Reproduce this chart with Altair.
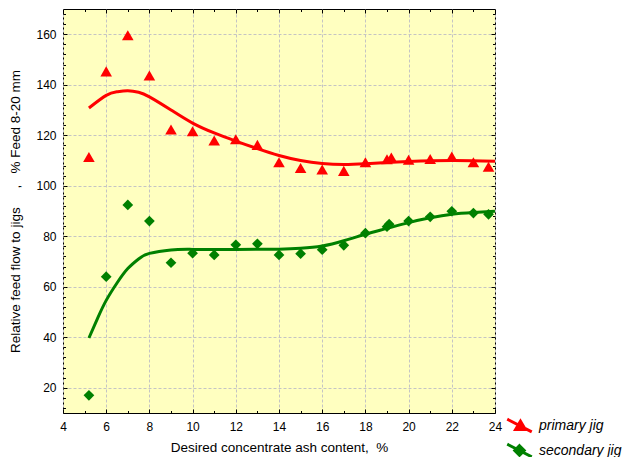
import altair as alt
import pandas as pd

# ---- data ----
series_names = ["primary jig", "secondary jig"]
series_colors = ["#ff0000", "#008000"]

ash_primary = [5.2, 6, 7, 8, 9, 10, 11, 12, 13, 14, 15, 16, 17, 18, 19, 19.2, 20, 21, 22, 23, 23.7]
flow_primary = [111.4, 145.3, 159.6, 143.7, 122.3, 121.6, 117.9, 118.4, 116.2, 109.3, 107.0,
                106.4, 105.9, 109.3, 110.5, 111.2, 110.3, 110.6, 111.6, 109.3, 107.5]

ash_secondary = [5.2, 6, 7, 8, 9, 10, 11, 12, 13, 14, 15, 16, 17, 18, 19, 19.1, 20, 21, 22, 23, 23.7]
flow_secondary = [17.0, 64.0, 92.4, 86.0, 69.5, 73.3, 72.6, 76.6, 77.0, 72.6, 73.1,
                  74.7, 76.4, 81.2, 83.8, 84.8, 86.0, 87.7, 89.9, 89.2, 88.7]

fit_primary_x = [5.2, 6.0, 6.5, 7.0, 7.5, 8.0, 9.0, 10.0, 11.0, 12.0, 13.0, 14.0, 15.0,
                 16.0, 17.0, 18.0, 19.0, 20.0, 22.0, 24.0]
fit_primary_y = [130.8, 135.8, 137.2, 137.6, 137.0, 135.2, 130.0, 124.8, 120.9, 117.7, 114.7,
                 112.0, 110.0, 108.8, 108.4, 108.7, 109.2, 109.6, 110.0, 109.7]

fit_secondary_x = [5.2, 5.6, 6.0, 6.5, 7.0, 7.5, 8.0, 9.0, 10.0, 12.0, 14.0, 15.0, 16.0,
                   17.0, 18.0, 19.0, 20.0, 21.0, 22.0, 23.0, 24.0]
fit_secondary_y = [39.7, 47.5, 54.6, 61.5, 67.2, 71.0, 73.2, 74.6, 74.8, 74.8, 74.9, 75.2,
                   76.1, 78.2, 80.8, 83.1, 85.4, 87.3, 88.7, 89.4, 89.9]

x_major_ticks = [4, 6, 8, 10, 12, 14, 16, 18, 20, 22, 24]
x_minor_ticks = [5, 7, 9, 11, 13, 15, 17, 19, 21, 23]
y_major_ticks = [20, 40, 60, 80, 100, 120, 140, 160]
y_minor_ticks = [12, 16, 24, 28, 32, 36, 44, 48, 52, 56, 64, 68, 72, 76, 84, 88, 92, 96,
                 104, 108, 112, 116, 124, 128, 132, 136, 144, 148, 152, 156, 164, 168]

x_title = "Desired concentrate ash content,\u00a0\u00a0%"
y_title = ("Relative feed flow to jigs" + "\u00a0" * 5 + "," + "\u00a0" * 3 + "% Feed 8-20 mm")

W, H = 432, 404
FONT = "Liberation Sans"

# ---- tables ----
df_p = pd.DataFrame({"x": ash_primary, "y": flow_primary})
df_s = pd.DataFrame({"x": ash_secondary, "y": flow_secondary})
df_fp = pd.DataFrame({"x": fit_primary_x, "y": fit_primary_y})
df_fs = pd.DataFrame({"x": fit_secondary_x, "y": fit_secondary_y})
df_leg = pd.DataFrame({"series": series_names, "x": [10, 10], "y": [100, 100]})

xs = alt.Scale(domain=[4, 24], nice=False, zero=False)
ys = alt.Scale(domain=[10, 170], nice=False, zero=False)

x_lab_axis = alt.Axis(values=x_major_ticks, ticks=False, tickSize=0, domain=False,
                      labelPadding=8, labelFont=FONT, labelFontSize=12, labelColor="black",
                      labelFlush=False, labelOverlap=False,
                      grid=True, gridColor="#c4c4c4", gridDash=[3, 2], gridWidth=1,
                      title=x_title, titleFont=FONT, titleFontSize=13.5,
                      titleFontWeight="normal", titleColor="black", titlePadding=8)
y_lab_axis = alt.Axis(values=y_major_ticks, ticks=False, tickSize=0, domain=False,
                      labelPadding=7, labelFont=FONT, labelFontSize=12, labelColor="black",
                      labelOverlap=False,
                      grid=True, gridColor="#c4c4c4", gridDash=[3, 2], gridWidth=1,
                      title=y_title, titleFont=FONT, titleFontSize=13.5,
                      titleFontWeight="normal", titleColor="black", titlePadding=13)

line_p = alt.Chart(df_fp).mark_line(color=series_colors[0], strokeWidth=3, interpolate="natural").encode(
    x=alt.X("x:Q", scale=xs, axis=x_lab_axis),
    y=alt.Y("y:Q", scale=ys, axis=y_lab_axis),
)
line_s = alt.Chart(df_fs).mark_line(color=series_colors[1], strokeWidth=3, interpolate="natural").encode(
    x=alt.X("x:Q", scale=xs, axis=None),
    y=alt.Y("y:Q", scale=ys, axis=None),
)
pts_p = alt.Chart(df_p).mark_point(shape="triangle-up", filled=True, color=series_colors[0],
                                   size=135, opacity=1).encode(
    x=alt.X("x:Q", scale=xs, axis=None),
    y=alt.Y("y:Q", scale=ys, axis=None),
)
pts_s = alt.Chart(df_s).mark_point(shape="diamond", filled=True, color=series_colors[1],
                                   size=115, opacity=1).encode(
    x=alt.X("x:Q", scale=xs, axis=None),
    y=alt.Y("y:Q", scale=ys, axis=None),
)


def tick_layer(xvals, yvals, xorient, yorient, size):
    ax = alt.Axis(values=xvals, orient=xorient, offset=-H, labels=False, domain=False,
                  grid=False, ticks=True, tickSize=size, tickColor="black", tickWidth=1,
                  title=None)
    ay = alt.Axis(values=yvals, orient=yorient, offset=-W, labels=False, domain=False,
                  grid=False, ticks=True, tickSize=size, tickColor="black", tickWidth=1,
                  title=None)
    return alt.Chart(df_p).mark_point(opacity=0, size=1).encode(
        x=alt.X("x:Q", scale=xs, axis=ax),
        y=alt.Y("y:Q", scale=ys, axis=ay),
    )


t1 = tick_layer(x_major_ticks, y_major_ticks, "top", "right", 4)
t2 = tick_layer(x_minor_ticks, y_minor_ticks, "top", "right", 2.5)
t3 = tick_layer(x_major_ticks, y_major_ticks, "bottom", "left", 4)
t4 = tick_layer(x_minor_ticks, y_minor_ticks, "bottom", "left", 2.5)

# legend layer (no data drawn, entries come from explicit domains)
red_sym = "M-1.75,-0.9L1.75,0.9M0.14,-0.62L0.84,0.58L-0.56,0.58Z"
green_sym = "M-1.75,-0.9L1.75,0.9M0,-0.68L0.68,0L0,0.68L-0.68,0Z"
leg = alt.Legend(title=None, orient="none", legendX=448, legendY=408, padding=0,
                 symbolSize=196, symbolStrokeWidth=3, labelOffset=11,
                 labelFont=FONT, labelFontSize=14, labelFontStyle="italic",
                 labelColor="black", rowPadding=0)
legend_layer = alt.Chart(df_leg).transform_filter("datum.x > 1000").mark_point(opacity=1).encode(
    x=alt.X("x:Q", scale=xs, axis=None),
    y=alt.Y("y:Q", scale=ys, axis=None),
    fill=alt.Fill("series:N", scale=alt.Scale(domain=series_names, range=series_colors), legend=leg),
    stroke=alt.Stroke("series:N", scale=alt.Scale(domain=series_names, range=series_colors), legend=leg),
    shape=alt.Shape("series:N", scale=alt.Scale(domain=series_names, range=[red_sym, green_sym]), legend=leg),
)

chart = alt.layer(line_p, line_s, pts_p, pts_s, t1, t2, t3, t4, legend_layer).resolve_axis(
    x="independent", y="independent"
).properties(
    width=W, height=H,
    autosize=alt.AutoSizeParams(type="none"),
    padding={"left": 55, "top": 1, "right": 127, "bottom": 44},
    background="white",
).configure_view(
    fill="#FFFFC0", stroke="black", strokeWidth=1,
)

chart.save("out.html", embed_options={"renderer": "svg", "actions": False})
